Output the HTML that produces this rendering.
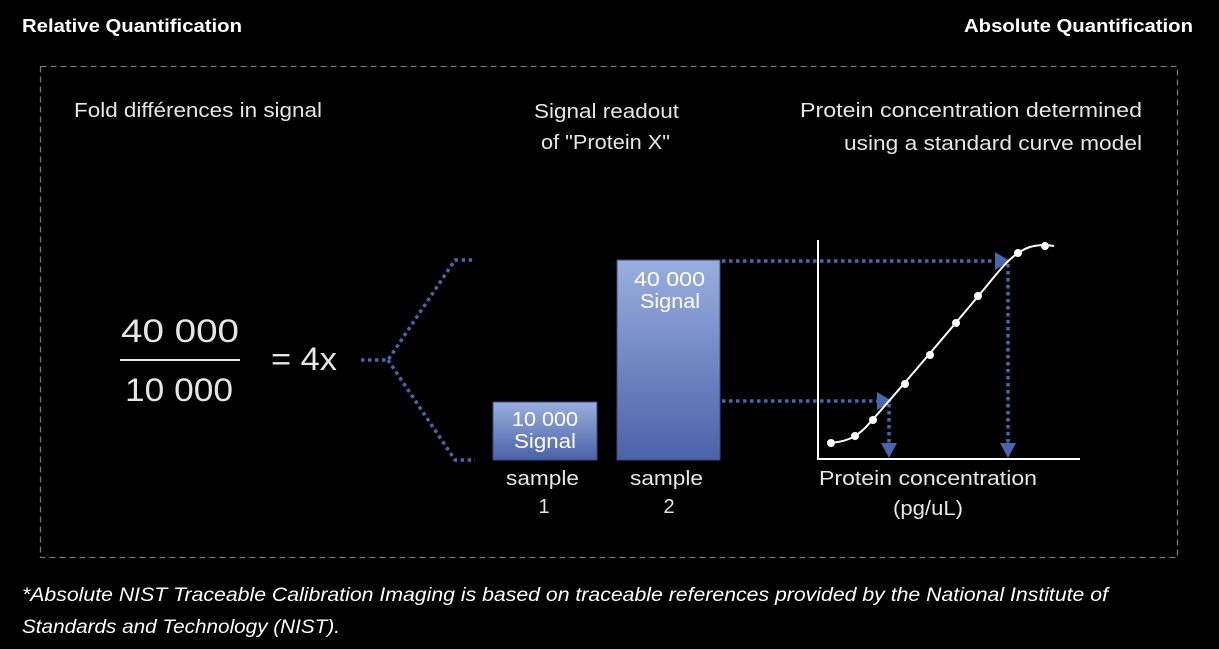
<!DOCTYPE html>
<html><head><meta charset="utf-8"><style>
html,body{margin:0;padding:0;background:#000;}
svg{display:block;font-family:"Liberation Sans",sans-serif;}
</style></head><body>
<svg width="1219" height="649" viewBox="0 0 1219 649" xmlns="http://www.w3.org/2000/svg">
<defs>
<linearGradient id="g" x1="0" y1="0" x2="0" y2="1">
<stop offset="0" stop-color="#9aaede"/><stop offset="1" stop-color="#4a62a8"/>
</linearGradient>
</defs>
<rect width="1219" height="649" fill="#000"/>
<text x="22" y="32" fill="#fff" font-size="18" font-weight="bold" textLength="220" lengthAdjust="spacingAndGlyphs">Relative Quantification</text>
<text x="964" y="32" fill="#fff" font-size="18" font-weight="bold" textLength="229" lengthAdjust="spacingAndGlyphs">Absolute Quantification</text>
<rect x="40.5" y="66.5" width="1137" height="491" fill="none" stroke="#777" stroke-width="1.3" stroke-dasharray="6 4"/>
<g fill="#e6e6e6" font-size="20">
<text x="74" y="117" textLength="248" lengthAdjust="spacingAndGlyphs">Fold différences in signal</text>
<text x="534" y="118" textLength="145" lengthAdjust="spacingAndGlyphs">Signal readout</text>
<text x="541" y="149" textLength="129" lengthAdjust="spacingAndGlyphs">of "Protein X"</text>
<text x="800" y="117" textLength="342" lengthAdjust="spacingAndGlyphs">Protein concentration determined</text>
<text x="844" y="150" textLength="298" lengthAdjust="spacingAndGlyphs">using a standard curve model</text>
<text x="819" y="485" textLength="218" lengthAdjust="spacingAndGlyphs">Protein concentration</text>
<text x="893" y="515" textLength="70" lengthAdjust="spacingAndGlyphs">(pg/uL)</text>
<text x="506" y="485" textLength="73" lengthAdjust="spacingAndGlyphs">sample</text>
<text x="544" y="513" text-anchor="middle">1</text>
<text x="630" y="485" textLength="73" lengthAdjust="spacingAndGlyphs">sample</text>
<text x="669" y="513" text-anchor="middle">2</text>
</g>
<g fill="#e6e6e6" font-size="32">
<text x="121" y="342" textLength="118" lengthAdjust="spacingAndGlyphs">40 000</text>
<text x="125" y="401" textLength="108" lengthAdjust="spacingAndGlyphs">10 000</text>
<text x="271" y="370" textLength="66" lengthAdjust="spacingAndGlyphs">= 4x</text>
</g>
<line x1="120" y1="360" x2="240" y2="360" stroke="#e6e6e6" stroke-width="2"/>
<g stroke="#4a64b0" stroke-width="3.5" stroke-dasharray="3.5 3.5" fill="none">
<path d="M361 360 H388 L455 260 H475"/>
<path d="M388 360 L455 460 H475"/>
<path d="M722 261 H998"/>
<path d="M722 401 H880"/>
<path d="M889 404 V446"/>
<path d="M1008 264 V446"/>
</g>
<g fill="#4a64b0">
<polygon points="995,252 1010,261 995,270"/>
<polygon points="877,392 892,401 877,410"/>
<polygon points="881,443 897,443 889,458"/>
<polygon points="1000,443 1016,443 1008,458"/>
</g>
<rect x="493" y="402" width="104" height="58" fill="url(#g)" stroke="#3a4a80" stroke-width="1"/>
<rect x="617" y="260" width="103" height="200" fill="url(#g)" stroke="#3a4a80" stroke-width="1"/>
<g fill="#fff" font-size="20">
<text x="512" y="426" textLength="66" lengthAdjust="spacingAndGlyphs">10 000</text>
<text x="514" y="448" textLength="62" lengthAdjust="spacingAndGlyphs">Signal</text>
<text x="634" y="286" textLength="71" lengthAdjust="spacingAndGlyphs">40 000</text>
<text x="640" y="308" textLength="60" lengthAdjust="spacingAndGlyphs">Signal</text>
</g>
<path d="M818 240 V459 H1080" stroke="#fff" stroke-width="2" fill="none"/>
<path d="M829 443 C845 442 855 438 865 428 C880 412 940 342 985 288 C1005 263 1015 252 1030 247 C1040 244 1048 245 1054 246" stroke="#fff" stroke-width="2" fill="none"/>
<g fill="#fff">
<circle cx="831" cy="443" r="4"/><circle cx="855" cy="436" r="4"/><circle cx="873" cy="420" r="4"/>
<circle cx="905" cy="384" r="4"/><circle cx="930" cy="355" r="4"/><circle cx="956" cy="323" r="4"/>
<circle cx="978" cy="296" r="4"/><circle cx="1018" cy="253" r="4"/><circle cx="1045" cy="246" r="4"/>
</g>
<g fill="#fff" font-size="19" font-style="italic">
<text x="22" y="601" textLength="1086" lengthAdjust="spacingAndGlyphs">*Absolute NIST Traceable Calibration Imaging is based on traceable references provided by the National Institute of</text>
<text x="22" y="633" textLength="318" lengthAdjust="spacingAndGlyphs">Standards and Technology (NIST).</text>
</g>
</svg>
</body></html>
